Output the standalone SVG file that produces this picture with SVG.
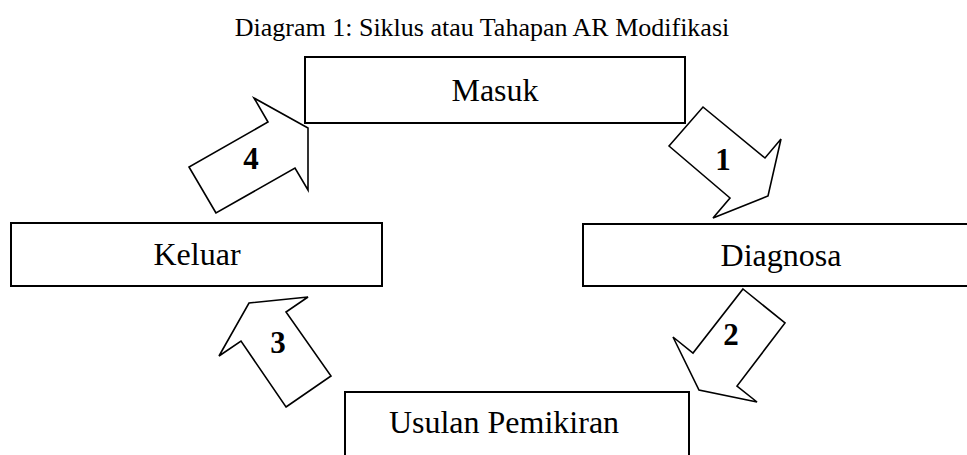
<svg xmlns="http://www.w3.org/2000/svg" width="967" height="455" viewBox="0 0 967 455">
  <style>
    .box { fill: #ffffff; stroke: #000000; stroke-width: 2; }
    .arrow { fill: #ffffff; stroke: #000000; stroke-width: 1.6; stroke-linejoin: miter; }
    .label { font-family: "Liberation Serif", "Times New Roman", serif; font-size: 32px; fill: #000000; text-anchor: middle; }
    .step { font-family: "Liberation Serif", "Times New Roman", serif; font-size: 31px; font-weight: bold; fill: #000000; text-anchor: middle; }
    .title { font-family: "Liberation Serif", "Times New Roman", serif; font-size: 26px; fill: #000000; text-anchor: middle; }
  </style>
  <rect width="967" height="455" fill="#ffffff"/>

  <text class="title" x="482" y="36">Diagram 1: Siklus atau Tahapan AR Modifikasi</text>

  <!-- stages of the cycle -->
  <g id="masuk">
    <rect class="box" x="305" y="57" width="380" height="66"/>
    <text class="label" x="495" y="101">Masuk</text>
  </g>
  <g id="diagnosa">
    <rect class="box" x="583" y="224" width="400" height="62"/>
    <text class="label" x="781" y="266">Diagnosa</text>
  </g>
  <g id="usulan">
    <rect class="box" x="345" y="392" width="344" height="80"/>
    <text class="label" x="504" y="433">Usulan Pemikiran</text>
  </g>
  <g id="keluar">
    <rect class="box" x="11" y="223" width="371" height="63"/>
    <text class="label" x="197" y="265">Keluar</text>
  </g>

  <!-- block arrows between the stages -->
  <g id="connectors">
    <g id="step1">
      <polygon class="arrow" points="669,146 703,107 765,158 781,139 768,196 713,218 730,198"/>
      <text class="step" x="723" y="170">1</text>
    </g>
    <g id="step2">
      <polygon class="arrow" points="743,289 785,323 737,386 757,402 699,390 673,337 693,353"/>
      <text class="step" x="731" y="345">2</text>
    </g>
    <g id="step3">
      <polygon class="arrow" points="286,407 331,376 286,312 308,297 249,303 219,356 241,341"/>
      <text class="step" x="278" y="353">3</text>
    </g>
    <g id="step4">
      <polygon class="arrow" points="216,213 189,167 268,122 254,98 308,128 308,190 295,168"/>
      <text class="step" x="251" y="169">4</text>
    </g>
  </g>
</svg>
